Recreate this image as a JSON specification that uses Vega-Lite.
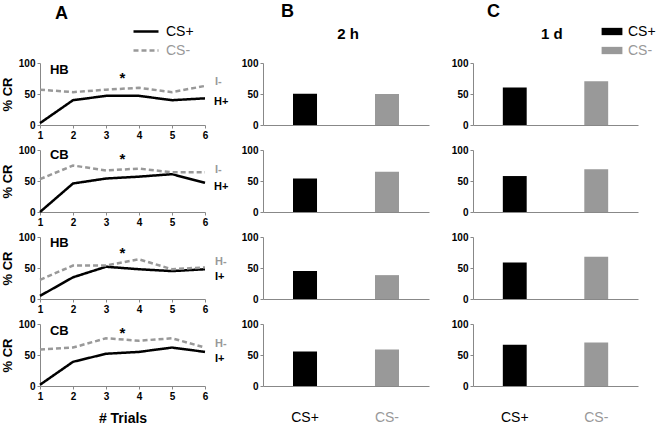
{
  "$schema": "https://vega.github.io/schema/vega-lite/v6.json",
  "autosize": {"type": "none"},
  "padding": {"left": 40, "top": 63, "right": 621, "bottom": 363},
  "background": "white",
  "config": {
    "font": "Liberation Sans",
    "view": {"stroke": null},
    "axis": {"grid": false, "tickCount": 20, "labelOverlap": false, "labelBound": false, "domainColor": "#888888", "tickColor": "#888888", "labelFont": "Liberation Sans", "labelFontWeight": "bold", "labelFontSize": 10, "labelColor": "#000000", "titleFont": "Liberation Sans", "titleColor": "#000000"},
    "legend": {"labelFont": "Liberation Sans", "labelFontSize": 14, "padding": 0},
    "title": {"font": "Liberation Sans", "color": "#000000"}
  },
  "datasets": {
    "lines": [
      {"panel": "A1", "cs": "CS+", "trial": 1, "cr": 3}, {"panel": "A1", "cs": "CS+", "trial": 2, "cr": 40}, {"panel": "A1", "cs": "CS+", "trial": 3, "cr": 47}, {"panel": "A1", "cs": "CS+", "trial": 4, "cr": 47}, {"panel": "A1", "cs": "CS+", "trial": 5, "cr": 40}, {"panel": "A1", "cs": "CS+", "trial": 6, "cr": 43},
      {"panel": "A1", "cs": "CS-", "trial": 1, "cr": 57}, {"panel": "A1", "cs": "CS-", "trial": 2, "cr": 53}, {"panel": "A1", "cs": "CS-", "trial": 3, "cr": 57}, {"panel": "A1", "cs": "CS-", "trial": 4, "cr": 60}, {"panel": "A1", "cs": "CS-", "trial": 5, "cr": 53}, {"panel": "A1", "cs": "CS-", "trial": 6, "cr": 63},
      {"panel": "A2", "cs": "CS+", "trial": 1, "cr": 0}, {"panel": "A2", "cs": "CS+", "trial": 2, "cr": 46}, {"panel": "A2", "cs": "CS+", "trial": 3, "cr": 54}, {"panel": "A2", "cs": "CS+", "trial": 4, "cr": 57}, {"panel": "A2", "cs": "CS+", "trial": 5, "cr": 61}, {"panel": "A2", "cs": "CS+", "trial": 6, "cr": 47},
      {"panel": "A2", "cs": "CS-", "trial": 1, "cr": 53}, {"panel": "A2", "cs": "CS-", "trial": 2, "cr": 75}, {"panel": "A2", "cs": "CS-", "trial": 3, "cr": 67}, {"panel": "A2", "cs": "CS-", "trial": 4, "cr": 70}, {"panel": "A2", "cs": "CS-", "trial": 5, "cr": 64}, {"panel": "A2", "cs": "CS-", "trial": 6, "cr": 64},
      {"panel": "A3", "cs": "CS+", "trial": 1, "cr": 5}, {"panel": "A3", "cs": "CS+", "trial": 2, "cr": 35}, {"panel": "A3", "cs": "CS+", "trial": 3, "cr": 52}, {"panel": "A3", "cs": "CS+", "trial": 4, "cr": 48}, {"panel": "A3", "cs": "CS+", "trial": 5, "cr": 45}, {"panel": "A3", "cs": "CS+", "trial": 6, "cr": 48},
      {"panel": "A3", "cs": "CS-", "trial": 1, "cr": 31}, {"panel": "A3", "cs": "CS-", "trial": 2, "cr": 54}, {"panel": "A3", "cs": "CS-", "trial": 3, "cr": 54}, {"panel": "A3", "cs": "CS-", "trial": 4, "cr": 64}, {"panel": "A3", "cs": "CS-", "trial": 5, "cr": 48}, {"panel": "A3", "cs": "CS-", "trial": 6, "cr": 51},
      {"panel": "A4", "cs": "CS+", "trial": 1, "cr": 2}, {"panel": "A4", "cs": "CS+", "trial": 2, "cr": 39}, {"panel": "A4", "cs": "CS+", "trial": 3, "cr": 52}, {"panel": "A4", "cs": "CS+", "trial": 4, "cr": 55}, {"panel": "A4", "cs": "CS+", "trial": 5, "cr": 62}, {"panel": "A4", "cs": "CS+", "trial": 6, "cr": 55},
      {"panel": "A4", "cs": "CS-", "trial": 1, "cr": 59}, {"panel": "A4", "cs": "CS-", "trial": 2, "cr": 62}, {"panel": "A4", "cs": "CS-", "trial": 3, "cr": 77}, {"panel": "A4", "cs": "CS-", "trial": 4, "cr": 73}, {"panel": "A4", "cs": "CS-", "trial": 5, "cr": 77}, {"panel": "A4", "cs": "CS-", "trial": 6, "cr": 62}
    ],
    "bars": [
      {"panel": "B1", "stimulus": "CS+", "cr": 50.5}, {"panel": "B1", "stimulus": "CS-", "cr": 50},
      {"panel": "B2", "stimulus": "CS+", "cr": 54}, {"panel": "B2", "stimulus": "CS-", "cr": 65},
      {"panel": "B3", "stimulus": "CS+", "cr": 45}, {"panel": "B3", "stimulus": "CS-", "cr": 38.5},
      {"panel": "B4", "stimulus": "CS+", "cr": 55.5}, {"panel": "B4", "stimulus": "CS-", "cr": 59},
      {"panel": "C1", "stimulus": "CS+", "cr": 60.6}, {"panel": "C1", "stimulus": "CS-", "cr": 70.7},
      {"panel": "C2", "stimulus": "CS+", "cr": 58}, {"panel": "C2", "stimulus": "CS-", "cr": 69},
      {"panel": "C3", "stimulus": "CS+", "cr": 59}, {"panel": "C3", "stimulus": "CS-", "cr": 68},
      {"panel": "C4", "stimulus": "CS+", "cr": 66.7}, {"panel": "C4", "stimulus": "CS-", "cr": 70}
    ]
  },
  "columns": 3,
  "spacing": {"row": 25, "column": 44},
  "bounds": "flush",
  "align": "each",
  "concat": [
    {
      "width": 179, "height": 62,
      "title": {"text": "A", "anchor": "start", "frame": "group", "dx": 15, "fontSize": 18, "fontWeight": "bold", "offset": 35},
      "layer": [
        {"data": {"name": "lines"}, "transform": [{"filter": "datum.panel == 'A1'"}],
          "mark": {"type": "line", "strokeWidth": 2.5},
          "encoding": {
            "x": {"field": "trial", "type": "quantitative", "scale": {"domain": [1, 6], "range": [0, 165]}, "axis": {"values": [1, 2, 3, 4, 5, 6], "format": "d", "tickCount": 20, "labelOverlap": false, "title": null, "tickSize": 3, "labelPadding": 2, "labelFlush": false}},
            "y": {"field": "cr", "type": "quantitative", "scale": {"domain": [0, 100]}, "axis": {"values": [0, 50, 100], "format": "d", "tickCount": 20, "labelOverlap": false, "title": "% CR", "titleFontSize": 13, "titleFontWeight": "bold", "titlePadding": 4, "tickSize": 3, "labelPadding": 2}},
            "stroke": {"field": "cs", "type": "nominal", "scale": {"domain": ["CS+", "CS-"], "range": ["#000000", "#999999"]}, "legend": {"orient": "none", "legendX": 99, "legendY": -38.5, "title": null, "symbolType": "M-2.5,0H2.5", "symbolSize": 100, "symbolStrokeWidth": 2.5, "labelOffset": 13, "rowPadding": 5, "labelColor": {"expr": "datum.value == 'CS-' ? '#999999' : '#000000'"}}},
            "strokeDash": {"field": "cs", "type": "nominal", "scale": {"domain": ["CS+", "CS-"], "range": [[1, 0], [5, 3]]}, "legend": {"orient": "none", "legendX": 99, "legendY": -38.5, "title": null, "symbolType": "M-2.5,0H2.5", "symbolSize": 100, "symbolStrokeWidth": 2.5, "labelOffset": 13, "rowPadding": 5, "labelColor": {"expr": "datum.value == 'CS-' ? '#999999' : '#000000'"}}}
          }},
        {"data": {"values": [{}]}, "mark": {"type": "text", "align": "left", "baseline": "middle", "fontSize": 13, "fontWeight": "bold"}, "encoding": {"x": {"datum": 1.3}, "y": {"datum": 88}, "text": {"value": "HB"}}},
        {"data": {"values": [{}]}, "mark": {"type": "text", "align": "center", "baseline": "middle", "fontSize": 15, "fontWeight": "bold"}, "encoding": {"x": {"datum": 3.5}, "y": {"datum": 76}, "text": {"value": "*"}}},
        {"data": {"values": [{}]}, "mark": {"type": "text", "align": "left", "baseline": "middle", "fontSize": 11, "fontWeight": "bold", "dx": 10, "color": "#999999"}, "encoding": {"x": {"datum": 6}, "y": {"datum": 69}, "text": {"value": "I-"}}},
        {"data": {"values": [{}]}, "mark": {"type": "text", "align": "left", "baseline": "middle", "fontSize": 11, "fontWeight": "bold", "dx": 9, "color": "#000000"}, "encoding": {"x": {"datum": 6}, "y": {"datum": 37}, "text": {"value": "H+"}}}
      ]
    },
    {
      "width": 166, "height": 62,
      "title": {"text": "B", "anchor": "start", "frame": "group", "dx": 18, "fontSize": 18, "fontWeight": "bold", "offset": 6},
      "layer": [
        {"data": {"name": "bars"}, "transform": [{"filter": "datum.panel == 'B1'"}],
          "mark": {"type": "bar"},
          "encoding": {
            "x": {"field": "stimulus", "type": "nominal", "scale": {"domain": ["CS+", "CS-"], "paddingInner": 0.707, "paddingOuter": 0.366}, "axis": {"labels": false, "ticks": false, "tickSize": 0, "title": null}},
            "y": {"field": "cr", "type": "quantitative", "scale": {"domain": [0, 100]}, "axis": {"values": [0, 50, 100], "format": "d", "tickCount": 20, "labelOverlap": false, "title": null, "tickSize": 3, "labelPadding": 2}},
            "fill": {"field": "stimulus", "type": "nominal", "scale": {"range": ["#000000", "#999999"]}, "legend": {"orient": "none", "legendX": 565, "legendY": -38.5, "title": null, "symbolType": "M-2.08,-0.73H2.08V0.73H-2.08Z", "symbolSize": 100, "symbolStrokeWidth": 0, "labelOffset": 9, "rowPadding": 5, "labelColor": {"expr": "datum.value == 'CS-' ? '#999999' : '#000000'"}}}
          }},
        {"data": {"values": [{}]}, "mark": {"type": "text", "align": "center", "baseline": "middle", "fontSize": 15, "fontWeight": "bold", "dx": 43}, "encoding": {"x": {"datum": "CS+"}, "y": {"datum": 147}, "text": {"value": "2 h"}}}
      ]
    },
    {
      "width": 165, "height": 62,
      "title": {"text": "C", "anchor": "start", "frame": "group", "dx": 14, "fontSize": 18, "fontWeight": "bold", "offset": 6},
      "layer": [
        {"data": {"name": "bars"}, "transform": [{"filter": "datum.panel == 'C1'"}],
          "mark": {"type": "bar"},
          "encoding": {
            "x": {"field": "stimulus", "type": "nominal", "scale": {"domain": ["CS+", "CS-"], "paddingInner": 0.707, "paddingOuter": 0.366}, "axis": {"labels": false, "ticks": false, "tickSize": 0, "title": null}},
            "y": {"field": "cr", "type": "quantitative", "scale": {"domain": [0, 100]}, "axis": {"values": [0, 50, 100], "format": "d", "tickCount": 20, "labelOverlap": false, "title": null, "tickSize": 3, "labelPadding": 2}},
            "fill": {"field": "stimulus", "type": "nominal", "scale": {"range": ["#000000", "#999999"]}}
          }},
        {"data": {"values": [{}]}, "mark": {"type": "text", "align": "center", "baseline": "middle", "fontSize": 15, "fontWeight": "bold", "dx": 37}, "encoding": {"x": {"datum": "CS+"}, "y": {"datum": 147}, "text": {"value": "1 d"}}}
      ]
    },
    {
      "width": 179, "height": 62,
      "layer": [
        {"data": {"name": "lines"}, "transform": [{"filter": "datum.panel == 'A2'"}],
          "mark": {"type": "line", "strokeWidth": 2.5},
          "encoding": {
            "x": {"field": "trial", "type": "quantitative", "scale": {"domain": [1, 6], "range": [0, 165]}, "axis": {"values": [1, 2, 3, 4, 5, 6], "format": "d", "tickCount": 20, "labelOverlap": false, "title": null, "tickSize": 3, "labelPadding": 2, "labelFlush": false}},
            "y": {"field": "cr", "type": "quantitative", "scale": {"domain": [0, 100]}, "axis": {"values": [0, 50, 100], "format": "d", "tickCount": 20, "labelOverlap": false, "title": "% CR", "titleFontSize": 13, "titleFontWeight": "bold", "titlePadding": 4, "tickSize": 3, "labelPadding": 2}},
            "stroke": {"field": "cs", "type": "nominal", "scale": {"domain": ["CS+", "CS-"], "range": ["#000000", "#999999"]}},
            "strokeDash": {"field": "cs", "type": "nominal", "scale": {"domain": ["CS+", "CS-"], "range": [[1, 0], [5, 3]]}}
          }},
        {"data": {"values": [{}]}, "mark": {"type": "text", "align": "left", "baseline": "middle", "fontSize": 13, "fontWeight": "bold"}, "encoding": {"x": {"datum": 1.3}, "y": {"datum": 92}, "text": {"value": "CB"}}},
        {"data": {"values": [{}]}, "mark": {"type": "text", "align": "center", "baseline": "middle", "fontSize": 15, "fontWeight": "bold"}, "encoding": {"x": {"datum": 3.5}, "y": {"datum": 85}, "text": {"value": "*"}}},
        {"data": {"values": [{}]}, "mark": {"type": "text", "align": "left", "baseline": "middle", "fontSize": 11, "fontWeight": "bold", "dx": 10, "color": "#999999"}, "encoding": {"x": {"datum": 6}, "y": {"datum": 68}, "text": {"value": "I-"}}},
        {"data": {"values": [{}]}, "mark": {"type": "text", "align": "left", "baseline": "middle", "fontSize": 11, "fontWeight": "bold", "dx": 9, "color": "#000000"}, "encoding": {"x": {"datum": 6}, "y": {"datum": 41}, "text": {"value": "H+"}}}
      ]
    },
    {
      "width": 166, "height": 62,
      "mark": {"type": "bar"},
      "data": {"name": "bars"}, "transform": [{"filter": "datum.panel == 'B2'"}],
      "encoding": {
        "x": {"field": "stimulus", "type": "nominal", "scale": {"domain": ["CS+", "CS-"], "paddingInner": 0.707, "paddingOuter": 0.366}, "axis": {"labels": false, "ticks": false, "tickSize": 0, "title": null}},
        "y": {"field": "cr", "type": "quantitative", "scale": {"domain": [0, 100]}, "axis": {"values": [0, 50, 100], "format": "d", "tickCount": 20, "labelOverlap": false, "title": null, "tickSize": 3, "labelPadding": 2}},
        "fill": {"field": "stimulus", "type": "nominal", "scale": {"range": ["#000000", "#999999"]}}
      }
    },
    {
      "width": 165, "height": 62,
      "mark": {"type": "bar"},
      "data": {"name": "bars"}, "transform": [{"filter": "datum.panel == 'C2'"}],
      "encoding": {
        "x": {"field": "stimulus", "type": "nominal", "scale": {"domain": ["CS+", "CS-"], "paddingInner": 0.707, "paddingOuter": 0.366}, "axis": {"labels": false, "ticks": false, "tickSize": 0, "title": null}},
        "y": {"field": "cr", "type": "quantitative", "scale": {"domain": [0, 100]}, "axis": {"values": [0, 50, 100], "format": "d", "tickCount": 20, "labelOverlap": false, "title": null, "tickSize": 3, "labelPadding": 2}},
        "fill": {"field": "stimulus", "type": "nominal", "scale": {"range": ["#000000", "#999999"]}}
      }
    },
    {
      "width": 179, "height": 62,
      "layer": [
        {"data": {"name": "lines"}, "transform": [{"filter": "datum.panel == 'A3'"}],
          "mark": {"type": "line", "strokeWidth": 2.5},
          "encoding": {
            "x": {"field": "trial", "type": "quantitative", "scale": {"domain": [1, 6], "range": [0, 165]}, "axis": {"values": [1, 2, 3, 4, 5, 6], "format": "d", "tickCount": 20, "labelOverlap": false, "title": null, "tickSize": 3, "labelPadding": 2, "labelFlush": false}},
            "y": {"field": "cr", "type": "quantitative", "scale": {"domain": [0, 100]}, "axis": {"values": [0, 50, 100], "format": "d", "tickCount": 20, "labelOverlap": false, "title": "% CR", "titleFontSize": 13, "titleFontWeight": "bold", "titlePadding": 4, "tickSize": 3, "labelPadding": 2}},
            "stroke": {"field": "cs", "type": "nominal", "scale": {"domain": ["CS+", "CS-"], "range": ["#000000", "#999999"]}},
            "strokeDash": {"field": "cs", "type": "nominal", "scale": {"domain": ["CS+", "CS-"], "range": [[1, 0], [5, 3]]}}
          }},
        {"data": {"values": [{}]}, "mark": {"type": "text", "align": "left", "baseline": "middle", "fontSize": 13, "fontWeight": "bold"}, "encoding": {"x": {"datum": 1.3}, "y": {"datum": 90}, "text": {"value": "HB"}}},
        {"data": {"values": [{}]}, "mark": {"type": "text", "align": "center", "baseline": "middle", "fontSize": 15, "fontWeight": "bold"}, "encoding": {"x": {"datum": 3.5}, "y": {"datum": 75}, "text": {"value": "*"}}},
        {"data": {"values": [{}]}, "mark": {"type": "text", "align": "left", "baseline": "middle", "fontSize": 11, "fontWeight": "bold", "dx": 10, "color": "#999999"}, "encoding": {"x": {"datum": 6}, "y": {"datum": 60}, "text": {"value": "H-"}}},
        {"data": {"values": [{}]}, "mark": {"type": "text", "align": "left", "baseline": "middle", "fontSize": 11, "fontWeight": "bold", "dx": 10, "color": "#000000"}, "encoding": {"x": {"datum": 6}, "y": {"datum": 36}, "text": {"value": "I+"}}}
      ]
    },
    {
      "width": 166, "height": 62,
      "mark": {"type": "bar"},
      "data": {"name": "bars"}, "transform": [{"filter": "datum.panel == 'B3'"}],
      "encoding": {
        "x": {"field": "stimulus", "type": "nominal", "scale": {"domain": ["CS+", "CS-"], "paddingInner": 0.707, "paddingOuter": 0.366}, "axis": {"labels": false, "ticks": false, "tickSize": 0, "title": null}},
        "y": {"field": "cr", "type": "quantitative", "scale": {"domain": [0, 100]}, "axis": {"values": [0, 50, 100], "format": "d", "tickCount": 20, "labelOverlap": false, "title": null, "tickSize": 3, "labelPadding": 2}},
        "fill": {"field": "stimulus", "type": "nominal", "scale": {"range": ["#000000", "#999999"]}}
      }
    },
    {
      "width": 165, "height": 62,
      "mark": {"type": "bar"},
      "data": {"name": "bars"}, "transform": [{"filter": "datum.panel == 'C3'"}],
      "encoding": {
        "x": {"field": "stimulus", "type": "nominal", "scale": {"domain": ["CS+", "CS-"], "paddingInner": 0.707, "paddingOuter": 0.366}, "axis": {"labels": false, "ticks": false, "tickSize": 0, "title": null}},
        "y": {"field": "cr", "type": "quantitative", "scale": {"domain": [0, 100]}, "axis": {"values": [0, 50, 100], "format": "d", "tickCount": 20, "labelOverlap": false, "title": null, "tickSize": 3, "labelPadding": 2}},
        "fill": {"field": "stimulus", "type": "nominal", "scale": {"range": ["#000000", "#999999"]}}
      }
    },
    {
      "width": 179, "height": 62,
      "layer": [
        {"data": {"name": "lines"}, "transform": [{"filter": "datum.panel == 'A4'"}],
          "mark": {"type": "line", "strokeWidth": 2.5},
          "encoding": {
            "x": {"field": "trial", "type": "quantitative", "scale": {"domain": [1, 6], "range": [0, 165]}, "axis": {"values": [1, 2, 3, 4, 5, 6], "format": "d", "tickCount": 20, "labelOverlap": false, "title": "# Trials", "titleFontSize": 14, "titleFontWeight": "bold", "titlePadding": 10, "tickSize": 3, "labelPadding": 2, "labelFlush": false}},
            "y": {"field": "cr", "type": "quantitative", "scale": {"domain": [0, 100]}, "axis": {"values": [0, 50, 100], "format": "d", "tickCount": 20, "labelOverlap": false, "title": "% CR", "titleFontSize": 13, "titleFontWeight": "bold", "titlePadding": 4, "tickSize": 3, "labelPadding": 2}},
            "stroke": {"field": "cs", "type": "nominal", "scale": {"domain": ["CS+", "CS-"], "range": ["#000000", "#999999"]}},
            "strokeDash": {"field": "cs", "type": "nominal", "scale": {"domain": ["CS+", "CS-"], "range": [[1, 0], [5, 3]]}}
          }},
        {"data": {"values": [{}]}, "mark": {"type": "text", "align": "left", "baseline": "middle", "fontSize": 13, "fontWeight": "bold"}, "encoding": {"x": {"datum": 1.3}, "y": {"datum": 89}, "text": {"value": "CB"}}},
        {"data": {"values": [{}]}, "mark": {"type": "text", "align": "center", "baseline": "middle", "fontSize": 15, "fontWeight": "bold"}, "encoding": {"x": {"datum": 3.5}, "y": {"datum": 85}, "text": {"value": "*"}}},
        {"data": {"values": [{}]}, "mark": {"type": "text", "align": "left", "baseline": "middle", "fontSize": 11, "fontWeight": "bold", "dx": 10, "color": "#999999"}, "encoding": {"x": {"datum": 6}, "y": {"datum": 68}, "text": {"value": "H-"}}},
        {"data": {"values": [{}]}, "mark": {"type": "text", "align": "left", "baseline": "middle", "fontSize": 11, "fontWeight": "bold", "dx": 10, "color": "#000000"}, "encoding": {"x": {"datum": 6}, "y": {"datum": 44}, "text": {"value": "I+"}}}
      ]
    },
    {
      "width": 166, "height": 62,
      "mark": {"type": "bar"},
      "data": {"name": "bars"}, "transform": [{"filter": "datum.panel == 'B4'"}],
      "encoding": {
        "x": {"field": "stimulus", "type": "nominal", "scale": {"domain": ["CS+", "CS-"], "paddingInner": 0.707, "paddingOuter": 0.366}, "axis": {"ticks": false, "tickSize": 0, "title": null, "labelAngle": 0, "labelPadding": 24, "labelFontSize": 14, "labelFontWeight": "normal", "labelColor": {"condition": {"test": "datum.value == 'CS-'", "value": "#999999"}, "value": "#000000"}}},
        "y": {"field": "cr", "type": "quantitative", "scale": {"domain": [0, 100]}, "axis": {"values": [0, 50, 100], "format": "d", "tickCount": 20, "labelOverlap": false, "title": null, "tickSize": 3, "labelPadding": 2}},
        "fill": {"field": "stimulus", "type": "nominal", "scale": {"range": ["#000000", "#999999"]}}
      }
    },
    {
      "width": 165, "height": 62,
      "mark": {"type": "bar"},
      "data": {"name": "bars"}, "transform": [{"filter": "datum.panel == 'C4'"}],
      "encoding": {
        "x": {"field": "stimulus", "type": "nominal", "scale": {"domain": ["CS+", "CS-"], "paddingInner": 0.707, "paddingOuter": 0.366}, "axis": {"ticks": false, "tickSize": 0, "title": null, "labelAngle": 0, "labelPadding": 24, "labelFontSize": 14, "labelFontWeight": "normal", "labelColor": {"condition": {"test": "datum.value == 'CS-'", "value": "#999999"}, "value": "#000000"}}},
        "y": {"field": "cr", "type": "quantitative", "scale": {"domain": [0, 100]}, "axis": {"values": [0, 50, 100], "format": "d", "tickCount": 20, "labelOverlap": false, "title": null, "tickSize": 3, "labelPadding": 2}},
        "fill": {"field": "stimulus", "type": "nominal", "scale": {"range": ["#000000", "#999999"]}}
      }
    }
  ]
}
